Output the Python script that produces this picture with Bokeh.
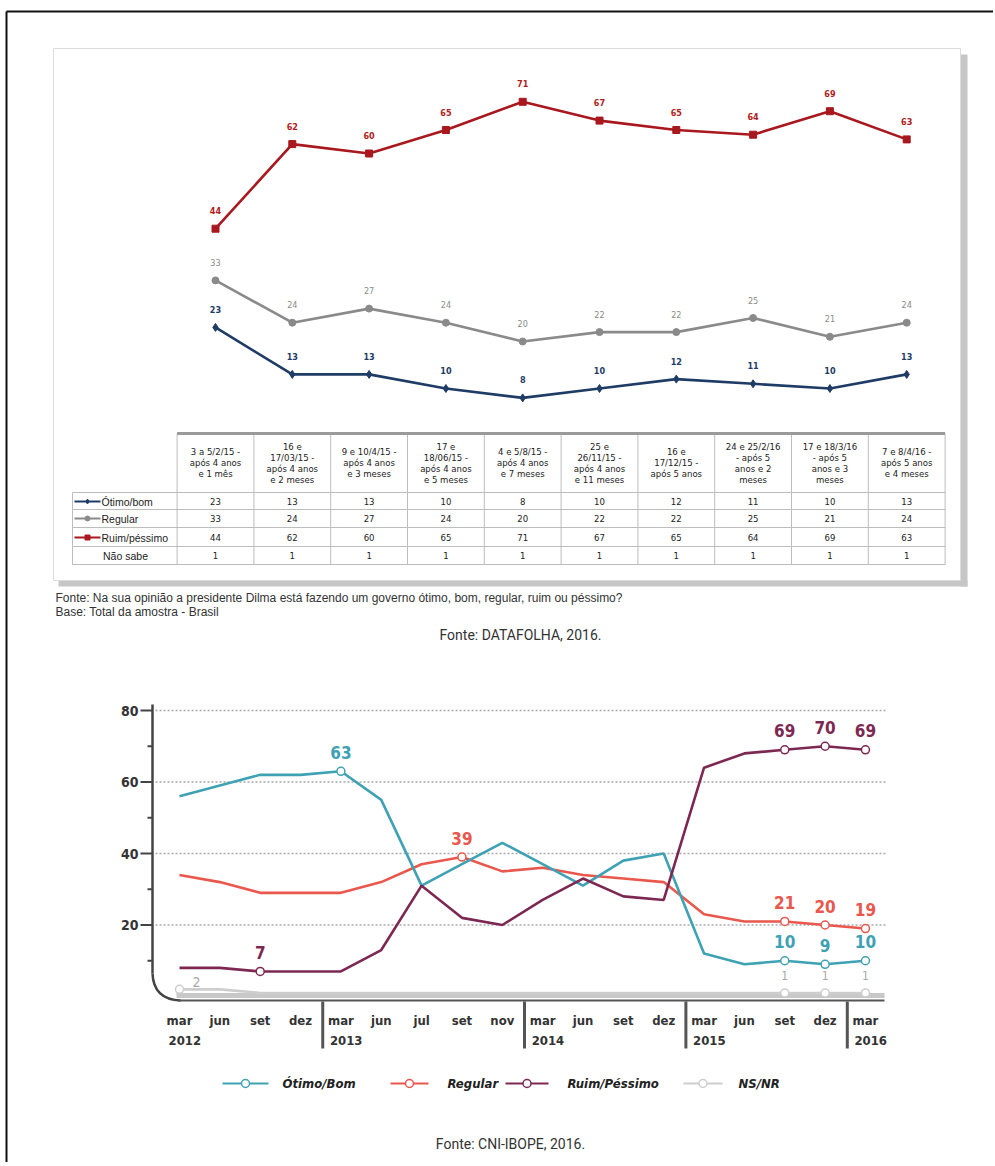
from bokeh.plotting import figure
from bokeh.models import Range1d
from bokeh.core.properties import value
from bokeh.embed import file_html
from bokeh.resources import INLINE

# ---------------- data: DATAFOLHA ----------------
df_periods = [
    "3 a 5/2/15 -|após 4 anos|e 1 mês",
    "16 e|17/03/15 -|após 4 anos|e 2 meses",
    "9 e 10/4/15 -|após 4 anos|e 3 meses",
    "17 e|18/06/15 -|após 4 anos|e 5 meses",
    "4 e 5/8/15 -|após 4 anos|e 7 meses",
    "25 e|26/11/15 -|após 4 anos|e 11 meses",
    "16 e|17/12/15 -|após 5 anos",
    "24 e 25/2/16|- após 5|anos e 2|meses",
    "17 e 18/3/16|- após 5|anos e 3|meses",
    "7 e 8/4/16 -|após 5 anos|e 4 meses",
]
df_rows = ["Ótimo/bom", "Regular", "Ruim/péssimo", "Não sabe"]
df_otimo = [23, 13, 13, 10, 8, 10, 12, 11, 10, 13]
df_regular = [33, 24, 27, 24, 20, 22, 22, 25, 21, 24]
df_ruim = [44, 62, 60, 65, 71, 67, 65, 64, 69, 63]
df_naosabe = [1, 1, 1, 1, 1, 1, 1, 1, 1, 1]

# ---------------- data: CNI-IBOPE ----------------
ib_months = ["mar", "jun", "set", "dez", "mar", "jun", "jul", "set", "nov",
             "mar", "jun", "set", "dez", "mar", "jun", "set", "dez", "mar"]
ib_years = ["2012", "", "", "", "2013", "", "", "", "", "2014", "", "", "",
            "2015", "", "", "", "2016"]
ib_otimo = [56, 59, 62, 62, 63, 55, 31, 37, 43, 37, 31, 38, 40, 12, 9, 10, 9, 10]
ib_regular = [34, 32, 29, 29, 29, 32, 37, 39, 35, 36, 34, 33, 32, 23, 21, 21, 20, 19]
ib_ruim = [8, 8, 7, 7, 7, 13, 31, 22, 20, 27, 33, 28, 27, 64, 68, 69, 70, 69]
ib_nsnr = [2, 2, 1, 1, 1, 1, 1, 1, 1, 1, 1, 1, 1, 1, 1, 1, 1, 1]
ib_names = ["Ótimo/Bom", "Regular", "Ruim/Péssimo", "NS/NR"]
ib_ticks = [20, 40, 60, 80]
ib_minor = [10, 30, 50, 70]
ib_marked = {"otimo": [4, 15, 16, 17], "regular": [7, 15, 16, 17],
             "ruim": [2, 15, 16, 17], "nsnr": [0, 15, 16, 17]}

# ---------------- figure ----------------
W, H = 993, 1162
OX, OY = 0, 0
def px(x): return x - OX
def py(y): return y - OY

NARROW = "DejaVu Sans Condensed, Roboto, sans-serif"
SANS = "Liberation Sans"

p = figure(width=W, height=H, x_range=Range1d(0, W), y_range=Range1d(H, 0),
           output_backend="svg", toolbar_location=None, min_border=0,
           x_axis_location=None, y_axis_location=None)
p.grid.visible = False
p.outline_line_color = None
p.background_fill_color = "white"
p.border_fill_color = "white"

def xr(a, s): return Range1d((0 - a) / s, (W - a) / s)
def yr(a, s): return Range1d((a - H) / s, a / s)

p.extra_x_ranges = {"dx": xr(px(215), 76.8), "ix": xr(px(179), 40.35)}
p.extra_y_ranges = {"dy": yr(py(435), 4.7), "iy": yr(py(996), 3.575)}

# outer frame
p.segment(x0=[px(6), px(6)], y0=[py(11), py(11)], x1=[W, px(6)], y1=[py(11), H],
          line_color="#111", line_width=2)

# ---------------- top panel ----------------
p.quad(left=[px(960), px(58)], right=[px(967), px(967)], top=[py(54), py(580)],
       bottom=[py(586), py(586)], fill_color="#c6c6c6", line_color=None)
p.quad(left=[px(53)], right=[px(960)], top=[py(48)], bottom=[py(580)],
       fill_color="white", line_color="#dcdcdc", line_width=1)

idx = list(range(len(df_otimo)))
C_RED, C_GRAY, C_NAVY = "#a8181e", "#8a8a8a", "#1f3c66"
for vals, col, mk, sz, lc in [(df_ruim, C_RED, "square", 7, "#b01c22"),
                              (df_regular, C_GRAY, "circle", 7, "#8a8a8a"),
                              (df_otimo, C_NAVY, "diamond", 8, "#1f3c66")]:
    p.line(idx, vals, x_range_name="dx", y_range_name="dy", line_color=col, line_width=2.6)
    p.scatter(idx, vals, x_range_name="dx", y_range_name="dy", marker=mk, size=sz,
              fill_color=col, line_color=col)
    p.text(idx, vals, text=[str(v) for v in vals], x_range_name="dx", y_range_name="dy",
           text_align="center", text_baseline="middle", y_offset=-18,
           text_font=value(NARROW), text_font_size="9px",
           text_font_style="bold" if col != C_GRAY else "normal", text_color=lc)

# table
row_y = [py(501), py(518), py(537), py(555)]
hlines_y = [py(492), py(509), py(527), py(546), py(564)]
p.segment(x0=[px(72)] * 5, x1=[px(945)] * 5, y0=hlines_y, y1=hlines_y,
          line_color="#bdbdbd", line_width=1)
bx = [i - 0.5 for i in range(len(idx) + 1)]
p.segment(x0=bx, x1=bx, y0=[py(433)] * len(bx), y1=[py(564)] * len(bx),
          x_range_name="dx", line_color="#bdbdbd", line_width=1)
p.segment(x0=[px(72)], x1=[px(72)], y0=[py(492)], y1=[py(564)], line_color="#bdbdbd")
p.segment(x0=[-0.5], x1=[len(idx) - 0.5], y0=[py(433)], y1=[py(433)],
          x_range_name="dx", line_color="#9a9a9a", line_width=3)

hx, hy, ht = [], [], []
for i, lab in enumerate(df_periods):
    lines = lab.split("|")
    n = len(lines)
    for k, ln in enumerate(lines):
        hx.append(i)
        hy.append(py(462) + (k - (n - 1) / 2) * 11)
        ht.append(ln)
p.text(hx, hy, text=ht, x_range_name="dx", text_align="center", text_baseline="middle",
       text_font=value(NARROW), text_font_size="9.5px", text_color="#222")

for r, vals in enumerate([df_otimo, df_regular, df_ruim, df_naosabe]):
    p.text(idx, [row_y[r]] * len(idx), text=[str(v) for v in vals], x_range_name="dx",
           text_align="center", text_baseline="middle",
           text_font=value(NARROW), text_font_size="9.5px", text_color="#222")

for r, (col, mk) in enumerate([(C_NAVY, "diamond"), (C_GRAY, "circle"), (C_RED, "square")]):
    p.line([px(74), px(100)], [row_y[r], row_y[r]], line_color=col, line_width=2)
    p.scatter([px(87)], [row_y[r]], marker=mk, size=5, fill_color=col, line_color=col)
p.text([px(101)] * 3, row_y[:3], text=df_rows[:3], text_align="left", text_baseline="middle",
       text_font=value(SANS), text_font_size="10.5px", text_color="#222")
p.text([px(125)], [row_y[3]], text=[df_rows[3]], text_align="center", text_baseline="middle",
       text_font=value(SANS), text_font_size="10.5px", text_color="#222")

p.text([px(55), px(55)], [py(597), py(611)],
       text=["Fonte: Na sua opinião a presidente Dilma está fazendo um governo ótimo, bom, regular, ruim ou péssimo?",
             "Base: Total da amostra - Brasil"],
       text_align="left", text_baseline="middle", text_font=value(SANS),
       text_font_size="12px", text_color="#333")

p.text([px(520)], [py(634)], text=["Fonte: DATAFOLHA, 2016."], text_align="center",
       text_baseline="middle", text_font=value("Roboto"), text_font_size="14px",
       text_color="#333")

# ---------------- bottom chart (CNI-IBOPE) ----------------
gx0, gx1 = px(155), px(886)
p.segment(x0=[gx0] * 4, x1=[gx1] * 4, y0=ib_ticks, y1=ib_ticks, y_range_name="iy",
          line_color="#a8a8a8", line_width=1.5, line_dash="2 2")
p.segment(x0=[px(140)] * 4, x1=[px(152)] * 4, y0=ib_ticks, y1=ib_ticks, y_range_name="iy",
          line_color="#444", line_width=2)
p.segment(x0=[px(147)] * 4, x1=[px(152)] * 4, y0=ib_minor, y1=ib_minor, y_range_name="iy",
          line_color="#444", line_width=2)
p.text([px(138)] * 4, ib_ticks, text=[str(t) for t in ib_ticks], y_range_name="iy",
       text_align="right", text_baseline="middle", text_font=value(NARROW),
       text_font_size="14px", text_font_style="bold", text_color="#333")
p.segment(x0=[px(152)], x1=[px(152)], y0=[py(704)], y1=[py(973)], line_color="#444", line_width=2.5)
p.quadratic(x0=[px(152)], y0=[py(973)], x1=[px(180)], y1=[py(1000)],
            cx=[px(153)], cy=[py(999)], line_color="#444", line_width=2.5)
p.segment(x0=[px(176)], x1=[px(884)], y0=[py(995)], y1=[py(995)], line_color="#c8c8c8", line_width=5)
p.segment(x0=[px(178)], x1=[px(884)], y0=[py(1000)], y1=[py(1000)], line_color="#555", line_width=2)

jdx = list(range(len(ib_months)))
C_TEAL, C_CORAL, C_PLUM, C_LGRAY = "#3ea2b4", "#e9574d", "#7c2853", "#cdcdcd"
series = [("nsnr", ib_nsnr, C_LGRAY, "#a8a8a8"),
          ("regular", ib_regular, C_CORAL, C_CORAL),
          ("otimo", ib_otimo, C_TEAL, C_TEAL),
          ("ruim", ib_ruim, C_PLUM, C_PLUM)]
for key, vals, col, tcol in series:
    p.line(jdx, vals, x_range_name="ix", y_range_name="iy", line_color=col, line_width=2.6)
    mj = ib_marked[key]
    mv = [vals[j] for j in mj]
    p.scatter(mj, mv, x_range_name="ix", y_range_name="iy", marker="circle", size=8,
              fill_color="white", line_color=col, line_width=1.5)
    if key == "nsnr":
        p.text(mj[:1], mv[:1], text=[str(mv[0])], x_range_name="ix", y_range_name="iy",
               text_align="center", text_baseline="middle", x_offset=17, y_offset=-7,
               text_font=value(NARROW), text_font_size="14px", text_color=tcol)
        p.text(mj[1:], mv[1:], text=[str(v) for v in mv[1:]], x_range_name="ix", y_range_name="iy",
               text_align="center", text_baseline="middle", y_offset=-17,
               text_font=value(NARROW), text_font_size="12px", text_color=tcol)
    else:
        p.text(mj, mv, text=[str(v) for v in mv], x_range_name="ix", y_range_name="iy",
               text_align="center", text_baseline="middle", y_offset=-19,
               text_font=value(NARROW), text_font_size="17px", text_font_style="bold",
               text_color=tcol)

p.text(jdx, [py(1020)] * len(jdx), text=ib_months, x_range_name="ix", text_align="center",
       text_baseline="middle", text_font=value(NARROW), text_font_size="13px",
       text_font_style="bold", text_color="#333")
yj = [j for j, y in enumerate(ib_years) if y]
p.text(yj, [py(1040)] * len(yj), text=[ib_years[j] for j in yj], x_range_name="ix",
       text_align="left", text_baseline="middle", x_offset=-11, text_font=value(NARROW),
       text_font_size="13px", text_font_style="bold", text_color="#333")
sep = [j - 0.45 for j in yj[1:]]
p.segment(x0=sep, x1=sep, y0=[py(1001)] * len(sep), y1=[py(1048)] * len(sep),
          x_range_name="ix", line_color="#555", line_width=3)

leg = [(222, 268, 282, C_TEAL), (390, 428, 447, C_CORAL), (505, 548, 567, C_PLUM), (683, 722, 738, C_LGRAY)]
ly = py(1083)
for (a, b, t, col) in leg:
    p.line([px(a), px(b)], [ly, ly], line_color=col, line_width=2)
    p.scatter([px((a + b) / 2)], [ly], marker="circle", size=8, fill_color="white",
              line_color=col, line_width=1.5)
p.text([px(t) for (_, _, t, _) in leg], [ly] * 4, text=ib_names, text_align="left",
       text_baseline="middle", text_font=value(NARROW), text_font_size="13px",
       text_font_style="bold italic", text_color="#222")

p.text([px(510)], [py(1143)], text=["Fonte: CNI-IBOPE, 2016."], text_align="center",
       text_baseline="middle", text_font=value("Roboto"), text_font_size="14px",
       text_color="#333")

open("out.html", "w").write(file_html(p, INLINE))
